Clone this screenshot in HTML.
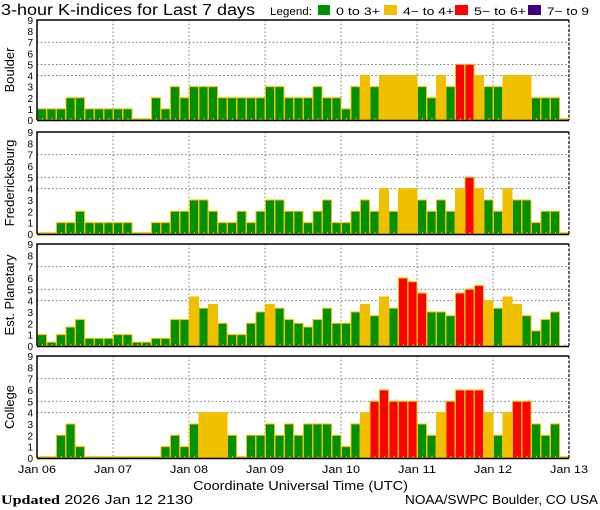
<!DOCTYPE html>
<html><head><meta charset="utf-8"><style>
html,body{margin:0;padding:0;background:#fff;}
svg{display:block;font-family:"Liberation Sans",sans-serif;}
</style></head><body>
<svg id="chart" width="600" height="510" viewBox="0 0 600 510" xmlns="http://www.w3.org/2000/svg">
<text x="1" y="15" font-size="15.5" textLength="254" lengthAdjust="spacingAndGlyphs">3-hour K-indices for Last 7 days</text>
<g font-size="11">
<text x="270" y="15" textLength="42" lengthAdjust="spacingAndGlyphs">Legend:</text>
<rect x="318" y="5" width="12" height="10" fill="#009000"/>
<text x="336" y="15" textLength="44" lengthAdjust="spacingAndGlyphs">0 to 3+</text>
<rect x="384" y="5" width="13" height="10" fill="#f0c000"/>
<text x="403" y="15" textLength="51" lengthAdjust="spacingAndGlyphs">4− to 4+</text>
<rect x="455" y="5" width="13" height="10" fill="#ff0000"/>
<text x="474" y="15" textLength="52" lengthAdjust="spacingAndGlyphs">5− to 6+</text>
<rect x="528" y="5" width="13" height="10" fill="#400080"/>
<text x="547" y="15" textLength="42" lengthAdjust="spacingAndGlyphs">7− to 9</text>
</g>
<text x="193" y="490" font-size="13" textLength="215" lengthAdjust="spacingAndGlyphs">Coordinate Universal Time (UTC)</text>
<text x="1" y="504" font-size="13" textLength="192" lengthAdjust="spacingAndGlyphs"><tspan font-family="Liberation Serif,serif" font-weight="bold">Updated</tspan> 2026 Jan 12 2130</text>
<text x="405" y="504" font-size="13" textLength="193" lengthAdjust="spacingAndGlyphs">NOAA/SWPC Boulder, CO USA</text>
</svg>
<script>
const stations = ["Boulder","Fredericksburg","Est. Planetary","College"];
const dayLabels = ["Jan 06","Jan 07","Jan 08","Jan 09","Jan 10","Jan 11","Jan 12","Jan 13"];
const yTicks = [0,1,2,3,4,5,6,7,8,9];
const boulder = [1,1,1,2,2,1,1,1, 1,1,0,0,2,1,3,2, 3,3,3,2,2,2,2,2, 3,3,2,2,2,3,2,2, 1,3,4,3,4,4,4,4, 3,2,4,3,5,5,4,3, 3,4,4,4,2,2,2,0];
const fredericksburg = [0,0,1,1,2,1,1,1, 1,1,0,0,1,1,2,2, 3,3,2,1,1,2,1,2, 3,3,2,2,1,2,3,1, 1,2,3,2,4,2,4,4, 3,2,3,2,4,5,4,3, 2,4,3,3,1,2,2,0];
const planetary = [1,0.33,1,1.67,2.33,0.67,0.67,0.67, 1,1,0.33,0.33,0.67,0.67,2.33,2.33, 4.33,3.33,3.67,2,1,1,2,3, 3.67,3.33,2.33,2,1.67,2.33,3.33,2, 2,3,3.67,2.67,4.33,3.33,6,5.67, 4.67,3,3,2.67,4.67,5,5.33,4, 3.33,4.33,3.67,2.67,1.33,2.33,3,null];
const college = [0,0,2,3,1,0,0,0, 0,0,0,0,0,1,2,1, 3,4,4,4,2,0,2,2, 3,2,3,2,3,3,3,2, 1,3,4,5,6,5,5,5, 3,2,4,5,6,6,6,4, 2,4,5,5,3,2,3,0];
const series = [boulder, fredericksburg, planetary, college];

const NS="http://www.w3.org/2000/svg";
const svg=document.getElementById('chart');
const X0=37, X1=569, nBars=56;
const tops=[20,132,244,356], zeros=[120,234,346,458];
function xScale(i){return X0+(X1-X0)*i/nBars;}
function mk(tag,attrs){const e=document.createElementNS(NS,tag);for(const k in attrs)e.setAttribute(k,attrs[k]);return e;}
function color(v){return v>=6.67?"#400080":v>=4.67?"#ff0000":v>=3.67?"#f0c000":"#009000";}

series.forEach((vals,p)=>{
  const top=tops[p], zero=zeros[p], unit=(zero-top)/9;
  const yScale=v=>zero-v*unit;
  const g=mk('g',{});
  
  
  svg.appendChild(g);
  [4,5,7].forEach(v=>{
    const l=mk('line',{x1:X0,x2:X1,y1:yScale(v),y2:yScale(v),stroke:'#777','stroke-dasharray':'1.5,2.3'});
    
    
    g.appendChild(l);
  });
  for(let d=1;d<7;d++){
    const x=xScale(d*8);
    const l=mk('line',{x1:x,x2:x,y1:top,y2:zero,stroke:'#777','stroke-dasharray':'1.5,2.3'});
    
    
    g.appendChild(l);
  }
  vals.forEach((v,i)=>{
    if(v===null)return;
    const x=xScale(i), w=xScale(i+1)-x;
    const h=Math.max(v*unit,1.2);
    const r=mk('rect',{x:x+0.5,y:zero-h,width:w-0.5,height:h,fill:color(v),stroke:'#f0c000','stroke-width':1});
    
    
    g.appendChild(r);
  });
  for(let i=0;i<nBars;i++){
    const t=mk('rect',{x:xScale(i)+5,y:zero-2,width:1,height:2,fill:'#f0c000'});
    
    
    g.appendChild(t);
  }
  const fr=mk('path',{d:`M${X0},${zero} V${top} H${X1}`,fill:'none',stroke:'#000','stroke-width':1.5});
  
  
  g.appendChild(fr);
  const rb=mk('line',{x1:X1,x2:X1,y1:top,y2:zero,stroke:'#000','stroke-dasharray':'3,1.5','stroke-width':1.2});
  
  
  g.appendChild(rb);
  const ax=mk('line',{x1:X0,x2:X1,y1:zero+0.5,y2:zero+0.5,stroke:'#000','stroke-width':1.5});
  
  
  g.appendChild(ax);
  yTicks.forEach(v=>{
    const t=mk('text',{x:33,y:yScale(v)+4,'text-anchor':'end','font-size':10});
    
    
    t.textContent=v;
    g.appendChild(t);
  });
  const cy=(top+zero)/2;
  const lab=mk('text',{x:14,y:cy,'text-anchor':'middle','font-size':13,transform:`rotate(-90 14 ${cy})`});
  
  
  lab.textContent=stations[p];
  g.appendChild(lab);
});
dayLabels.forEach((s,d)=>{
  const t=mk('text',{x:xScale(d*8)-19,y:473,'font-size':11,textLength:38,lengthAdjust:'spacingAndGlyphs'});
  
  
  t.textContent=s;
  svg.appendChild(t);
});
</script>
</body></html>
